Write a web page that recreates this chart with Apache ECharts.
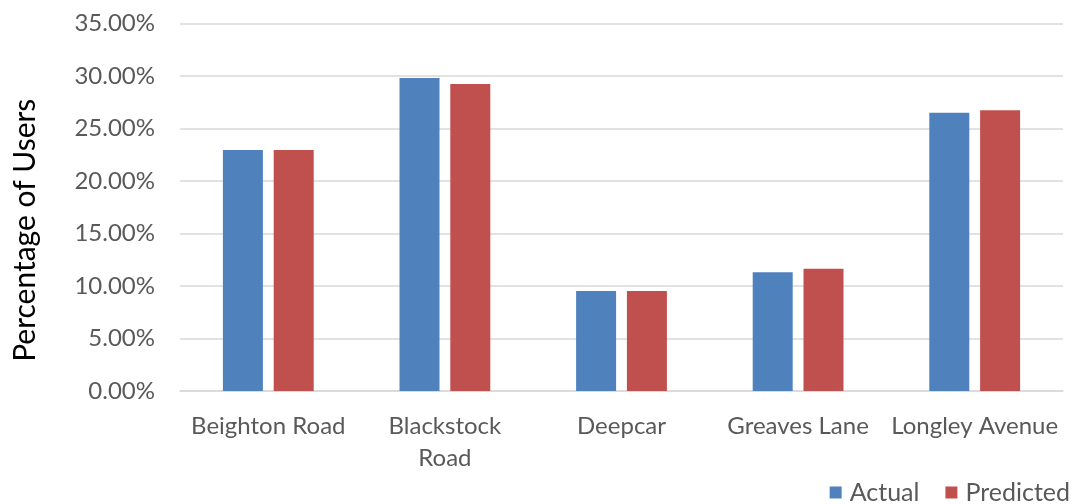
<!DOCTYPE html>
<html>
<head>
<meta charset="utf-8">
<script src="https://cdn.jsdelivr.net/npm/echarts@6/dist/echarts.min.js"></script>
<style>
	html, body { margin: 0; padding: 0; background: #fff; }
	#chart { width: 1083px; height: 504px; }
</style>
</head>
<body>
<div id="chart"></div>
<script>
// data (percent of users)
var stations = ['Beighton Road', 'Blackstock\nRoad', 'Deepcar', 'Greaves Lane', 'Longley Avenue'];
var actual = [22.95, 29.8, 9.52, 11.3, 26.5];
var predicted = [22.95, 29.24, 9.52, 11.65, 26.73];

var FONT = 'Lato, "Open Sans", sans-serif';
var GREY = '#595959';

var chart = echarts.init(document.getElementById('chart'));

chart.setOption({
	animation: false,
	textStyle: { fontFamily: FONT },
	grid: { left: 180, right: 20, top: 23.5, bottom: 113 },
	legend: {
		right: 8,
		bottom: -6,
		itemWidth: 12,
		itemHeight: 12,
		itemGap: 26,
		icon: 'rect',
		textStyle: { fontFamily: FONT, fontSize: 25, color: GREY, padding: [0, 0, 0, 3] }
	},
	xAxis: {
		type: 'category',
		data: stations,
		axisTick: { show: false },
		axisLine: { lineStyle: { color: '#d9d9d9', width: 1.5 } },
		axisLabel: {
			interval: 0,
			margin: 19,
			fontSize: 24,
			lineHeight: 32,
			color: GREY,
			fontFamily: FONT
		}
	},
	yAxis: {
		type: 'value',
		min: 0,
		max: 35,
		interval: 5,
		name: 'Percentage of Users',
		nameLocation: 'middle',
		nameGap: 140,
		nameTextStyle: { fontSize: 30, color: '#000', fontFamily: FONT, padding: [0, 46, 0, 0] },
		axisLine: { show: false },
		axisTick: { show: false },
		splitLine: { lineStyle: { color: '#d9d9d9', width: 1.5 } },
		axisLabel: {
			margin: 25,
			fontSize: 24,
			color: GREY,
			fontFamily: FONT,
			formatter: function(v){ return v.toFixed(2) + '%'; }
		}
	},
	series: [
		{
			name: 'Actual',
			type: 'bar',
			data: actual,
			barWidth: 40,
			barGap: '27%',
			itemStyle: { color: '#4f81bd' }
		},
		{
			name: 'Predicted',
			type: 'bar',
			data: predicted,
			barWidth: 40,
			itemStyle: { color: '#c0504d' }
		}
	]
});
</script>
</body>
</html>
